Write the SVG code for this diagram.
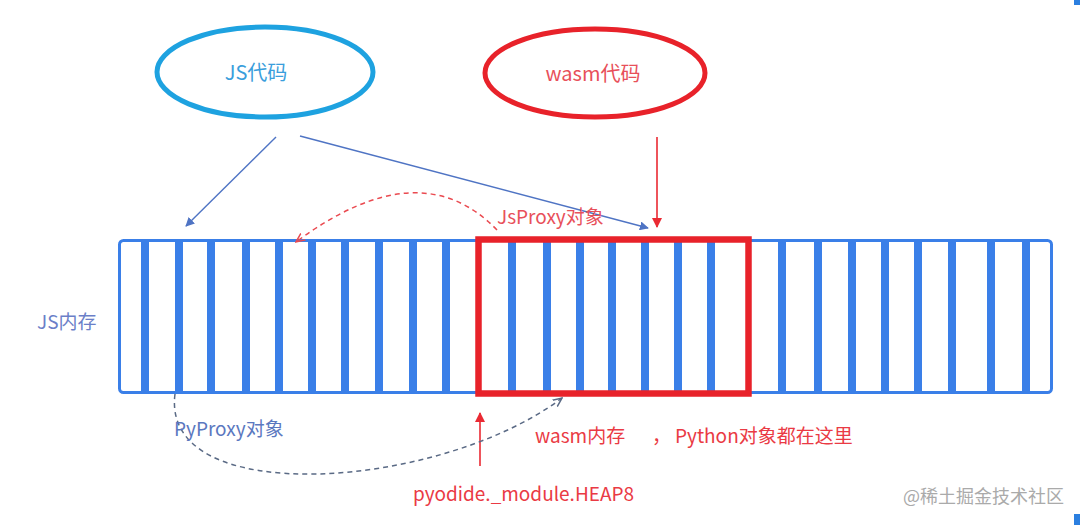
<svg xmlns="http://www.w3.org/2000/svg" width="1080" height="525" viewBox="0 0 1080 525">
<style>
.t{font-family:"Noto Sans CJK SC","Liberation Sans",sans-serif;font-size:19px}
.stripe{fill:#3a7fe8}
.blue{stroke:#4f74c4;stroke-width:1.4;fill:none}
.red{stroke:#ea2a33;stroke-width:1.6;fill:none}
</style>
<defs>
<marker id="ab" viewBox="0 0 10 10" refX="9" refY="5" markerWidth="9" markerHeight="9" markerUnits="userSpaceOnUse" orient="auto"><path d="M0,0 L10,5 L0,10 z" fill="#4f74c4"/></marker>
<marker id="ar" viewBox="0 0 10 10" refX="9" refY="5" markerWidth="10" markerHeight="10" markerUnits="userSpaceOnUse" orient="auto"><path d="M0,0 L10,5 L0,10 z" fill="#ea2a33"/></marker>
<marker id="ard" viewBox="0 0 10 10" refX="9" refY="5" markerWidth="10" markerHeight="10" markerUnits="userSpaceOnUse" orient="auto"><path d="M0,1 L9,5 L0,9" fill="none" stroke="#ea4a50" stroke-width="1.5"/></marker>
<marker id="agd" viewBox="0 0 10 10" refX="9" refY="5" markerWidth="10" markerHeight="10" markerUnits="userSpaceOnUse" orient="auto"><path d="M0,1 L9,5 L0,9" fill="none" stroke="#5a6a85" stroke-width="1.5"/></marker>
</defs>
<rect width="1080" height="525" fill="#ffffff"/>
<rect x="1074" y="0" width="6" height="5" fill="#2b7fe0"/>
<rect x="1074" y="514" width="6" height="11" fill="#2b7fe0"/>

<g id="js-code">
<ellipse cx="265" cy="72" rx="108" ry="45" fill="none" stroke="#1ea2e0" stroke-width="5"/>
<text class="t" x="256" y="80" text-anchor="middle" fill="#3a9edc" style="font-size:20px">JS代码</text>
</g>
<g id="wasm-code">
<ellipse cx="595" cy="73" rx="110" ry="44" fill="none" stroke="#e8222a" stroke-width="5"/>
<text class="t" x="593" y="81" text-anchor="middle" fill="#e8505a" style="font-size:20px">wasm代码</text>
</g>

<g id="js-memory">
<rect x="119.5" y="240.5" width="932" height="152" rx="4" fill="#ffffff" stroke="#3a7fe8" stroke-width="3"/>
<g class="stripes">
<rect class="stripe" x="141" y="241" width="8" height="151"/>
<rect class="stripe" x="175" y="241" width="8" height="151"/>
<rect class="stripe" x="207" y="241" width="8" height="151"/>
<rect class="stripe" x="242" y="241" width="8" height="151"/>
<rect class="stripe" x="275" y="241" width="8" height="151"/>
<rect class="stripe" x="308" y="241" width="8" height="151"/>
<rect class="stripe" x="341" y="241" width="8" height="151"/>
<rect class="stripe" x="375" y="241" width="8" height="151"/>
<rect class="stripe" x="409" y="241" width="8" height="151"/>
<rect class="stripe" x="442" y="241" width="8" height="151"/>
<rect class="stripe" x="508" y="241" width="8" height="151"/>
<rect class="stripe" x="543" y="241" width="8" height="151"/>
<rect class="stripe" x="576" y="241" width="8" height="151"/>
<rect class="stripe" x="608" y="241" width="8" height="151"/>
<rect class="stripe" x="641" y="241" width="8" height="151"/>
<rect class="stripe" x="674" y="241" width="8" height="151"/>
<rect class="stripe" x="707" y="241" width="8" height="151"/>
<rect class="stripe" x="778" y="241" width="8" height="151"/>
<rect class="stripe" x="814" y="241" width="8" height="151"/>
<rect class="stripe" x="848" y="241" width="8" height="151"/>
<rect class="stripe" x="881" y="241" width="8" height="151"/>
<rect class="stripe" x="914" y="241" width="8" height="151"/>
<rect class="stripe" x="948" y="241" width="8" height="151"/>
<rect class="stripe" x="987" y="241" width="8" height="151"/>
<rect class="stripe" x="1022" y="241" width="8" height="151"/>
</g>
<text class="t" x="37" y="329" fill="#6b7fc8">JS内存</text>
</g>

<g id="wasm-memory">
<rect x="478.5" y="239.5" width="270" height="154" fill="none" stroke="#e8222a" stroke-width="6.5"/>
</g>

<g id="connectors">
<line class="blue" x1="276" y1="137" x2="186" y2="226" marker-end="url(#ab)"/>
<line class="blue" x1="300" y1="136" x2="648" y2="228" marker-end="url(#ab)"/>
<line class="red" x1="657" y1="137" x2="657" y2="227" marker-end="url(#ar)"/>
<line class="red" x1="480" y1="466" x2="480" y2="413" marker-end="url(#ar)"/>
<path d="M497 230 Q420 150 296 242" fill="none" stroke="#ea4a50" stroke-width="1.5" stroke-dasharray="5,4" marker-end="url(#ard)"/>
<path d="M175 394 C160 510 440 490 562 398" fill="none" stroke="#5a6a85" stroke-width="1.5" stroke-dasharray="5,4" marker-end="url(#agd)"/>
</g>

<g id="labels">
<text class="t" x="497" y="224" fill="#e8505a">JsProxy对象</text>
<text class="t" x="174" y="436" fill="#5b78c0">PyProxy对象</text>
<text class="t" x="535" y="443" fill="#ea3a44">wasm内存</text>
<text class="t" x="652" y="443" fill="#ea3a44">，</text>
<text class="t" x="675" y="443" fill="#ea3a44">Python对象都在这里</text>
<text class="t" x="413" y="501" fill="#ea3a44">pyodide._module.HEAP8</text>
<text class="t" x="903" y="503" fill="#aaaaaa" style="font-size:18px">@稀土掘金技术社区</text>
</g>
</svg>
